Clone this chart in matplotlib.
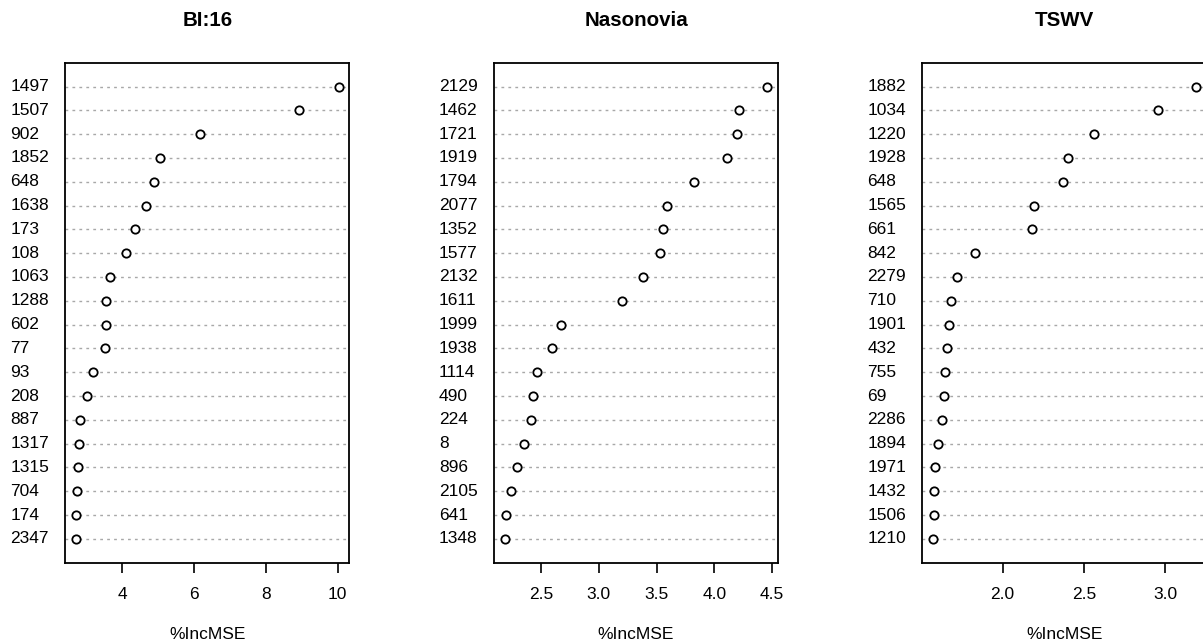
import matplotlib
matplotlib.use("Agg")
import matplotlib.pyplot as plt

plt.rcParams['font.family'] = ['Liberation Sans', 'DejaVu Sans']

# variable importance (%IncMSE), top 20 per trait, highest first
bi16_labels = ['1497', '1507', '902', '1852', '648', '1638', '173', '108', '1063', '1288',
               '602', '77', '93', '208', '887', '1317', '1315', '704', '174', '2347']
bi16_values = [10.03, 8.92, 6.16, 5.05, 4.88, 4.67, 4.35, 4.10, 3.65, 3.55,
               3.55, 3.51, 3.17, 3.00, 2.82, 2.78, 2.75, 2.72, 2.70, 2.70]

nas_labels = ['2129', '1462', '1721', '1919', '1794', '2077', '1352', '1577', '2132', '1611',
              '1999', '1938', '1114', '490', '224', '8', '896', '2105', '641', '1348']
nas_values = [4.46, 4.21, 4.20, 4.11, 3.82, 3.59, 3.56, 3.53, 3.38, 3.20,
              2.67, 2.60, 2.465, 2.43, 2.41, 2.355, 2.29, 2.245, 2.20, 2.185]

tswv_labels = ['1882', '1034', '1220', '1928', '648', '1565', '661', '842', '2279', '710',
               '1901', '432', '755', '69', '2286', '1894', '1971', '1432', '1506', '1210']
tswv_values = [3.19, 2.96, 2.56, 2.40, 2.37, 2.195, 2.18, 1.83, 1.72, 1.68,
               1.67, 1.66, 1.645, 1.64, 1.624, 1.60, 1.585, 1.58, 1.575, 1.57]

titles = ['BI:16', 'Nasonovia', 'TSWV']
panels = [(bi16_labels, bi16_values, [4, 6, 8, 10], ['4', '6', '8', '10']),
          (nas_labels, nas_values, [2.5, 3.0, 3.5, 4.0, 4.5], ['2.5', '3.0', '3.5', '4.0', '4.5']),
          (tswv_labels, tswv_values, [2.0, 2.5, 3.0], ['2.0', '2.5', '3.0'])]

W, H = 1203, 643
fig = plt.figure(figsize=(W / 100, H / 100), dpi=100)

lefts = [65.3, 494.0, 922.3]
ax_w = 284.0
ax_top, ax_bot = 62.7, 562.7

for left, title, (labels, values, ticks, ticklabels) in zip(lefts, titles, panels):
    ax = fig.add_axes([left / W, 1 - ax_bot / H, ax_w / W, (ax_bot - ax_top) / H])
    n = len(values)
    ypos = list(range(n, 0, -1))
    for y in ypos:
        ax.axhline(y, color='#a8a8a8', linestyle=(0, (2, 3)), linewidth=1.0, zorder=1)
    ax.plot(values, ypos, linestyle='none', marker='o', markersize=6,
            markerfacecolor='white', markeredgecolor='black', markeredgewidth=1.3, zorder=3)
    lo, hi = min(values), max(values)
    pad = (hi - lo) * 0.04
    ax.set_xlim(lo - pad, hi + pad)
    ax.set_ylim(0, n + 1)
    ax.set_yticks([])
    ax.set_xticks(ticks)
    ax.set_xticklabels(ticklabels, fontsize=12.5)
    ax.tick_params(axis='x', direction='out', length=7.5, width=1.2, pad=10)
    for s in ax.spines.values():
        s.set_linewidth(1.3)
    for lab, y in zip(labels, ypos):
        ax.annotate(lab, xy=(0, y), xycoords=('axes fraction', 'data'),
                    xytext=(-55, 0), textcoords='offset pixels',
                    ha='left', va='center', fontsize=12.5)
    ax.set_xlabel('%IncMSE', fontsize=12.5, labelpad=18)
    cx = (left + ax_w / 2) / W
    fig.text(cx, 1 - 21 / H, title, ha='center', va='center',
             fontsize=14.8, fontweight='bold')

fig.savefig('out.png', dpi=100)
